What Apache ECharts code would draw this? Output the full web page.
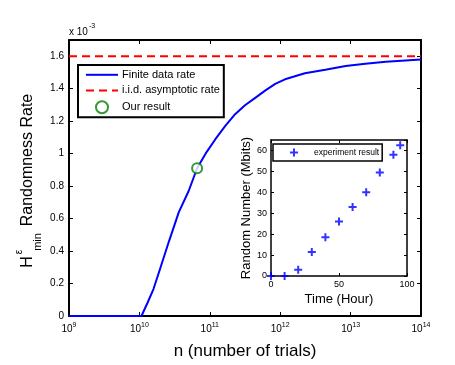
<!DOCTYPE html>
<html>
<head>
<meta charset="utf-8">
<script src="https://cdn.jsdelivr.net/npm/echarts@6/dist/echarts.min.js"></script>
<style>html,body{margin:0;padding:0;background:#fff}#c{width:455px;height:365px}</style>
</head>
<body>
<div id="c"></div>
<script>
// Main plot: finite data rate vs number of trials (rate in units of 1e-3)
const trialsN = [1e9, 1.07e10, 1.3e10, 1.585e10, 2.0e10, 2.63e10, 3.63e10, 5.01e10, 6.6e10, 8.7e10, 1.2e11, 1.66e11, 2.29e11, 3.16e11, 4.47e11, 6.17e11, 8.5e11, 1.17e12, 2.24e12, 4.37e12, 8.5e12, 1.62e13, 3.16e13, 1e14];
const finiteRate = [0, 0, 0.08, 0.166, 0.30, 0.46, 0.64, 0.77, 0.91, 1.0, 1.089, 1.171, 1.243, 1.298, 1.345, 1.39, 1.43, 1.458, 1.495, 1.517, 1.54, 1.553, 1.566, 1.58];
const asymptoticN = [1e9, 1e14];
const asymptoticRate = [1.6, 1.6];
const ourResultN = [6.6e10];
const ourResultRate = [0.91];
// Inset: random number generated vs time
const hours = [0, 10, 20, 30, 40, 50, 60, 70, 80, 90, 95];
const mbits = [0, 0, 3, 11.5, 18.5, 26, 33, 40, 49.5, 58, 62.5];

const FONT = '"Liberation Sans", Arial, Helvetica, sans-serif';
const zip = (a, b) => a.map((v, i) => [v, b[i]]);
const PLUS = 'path://M3,0H5V3H8V5H5V8H3V5H0V3H3Z';

const chart = echarts.init(document.getElementById('c'), null, {renderer: 'canvas'});
const axLine = {show: true, onZero: false, lineStyle: {color: '#000', width: 2}};
const axLineThin = {show: true, onZero: false, lineStyle: {color: '#000', width: 1.5}};
const tickIn = {show: true, inside: true, length: 4, lineStyle: {color: '#000', width: 1}};
const tickInSmall = {show: true, inside: true, length: 3, lineStyle: {color: '#000', width: 1}};

chart.setOption({
  animation: false,
  backgroundColor: '#fff',
  textStyle: {fontFamily: FONT},
  grid: [
    {left: 69, right: 34, top: 40, bottom: 48, containLabel: false},
    {left: 271, right: 48, top: 140, bottom: 89, containLabel: false, show: true, backgroundColor: '#fff', borderWidth: 0}
  ],
  xAxis: [
    {type: 'log', logBase: 10, gridIndex: 0, min: 1e9, max: 1e14, position: 'bottom',
     axisLine: axLine, axisTick: tickIn, splitLine: {show: false},
     axisLabel: {color: '#000', fontSize: 10, margin: 6, fontFamily: FONT,
       formatter: v => '10{s|' + Math.round(Math.log10(v)) + '}',
       rich: {s: {fontSize: 7, verticalAlign: 'top', padding: [0, 0, 7, 0], fontFamily: FONT, color: '#000'}}},
     name: 'n (number of trials)', nameLocation: 'middle', nameGap: 27,
     nameTextStyle: {fontSize: 17, color: '#000', fontFamily: FONT}},
    {type: 'log', logBase: 10, gridIndex: 0, min: 1e9, max: 1e14, position: 'top',
     axisLine: axLine, axisTick: tickIn, axisLabel: {show: false}, splitLine: {show: false}},
    {type: 'value', gridIndex: 1, min: 0, max: 100, interval: 50, position: 'bottom',
     axisLine: axLineThin, axisTick: tickInSmall, splitLine: {show: false},
     axisLabel: {color: '#000', fontSize: 9, margin: 4, fontFamily: FONT},
     name: 'Time (Hour)', nameLocation: 'middle', nameGap: 17,
     nameTextStyle: {fontSize: 13, color: '#000', fontFamily: FONT}},
    {type: 'value', gridIndex: 1, min: 0, max: 100, interval: 50, position: 'top',
     axisLine: axLineThin, axisTick: tickInSmall, axisLabel: {show: false}, splitLine: {show: false}}
  ],
  yAxis: [
    {type: 'value', gridIndex: 0, min: 0, max: 1.7, interval: 0.2, position: 'left',
     axisLine: axLine, axisTick: tickIn, splitLine: {show: false},
     axisLabel: {color: '#000', fontSize: 10, margin: 5, showMaxLabel: false, fontFamily: FONT,
       formatter: v => String(Math.round(v * 10) / 10)}},
    {type: 'value', gridIndex: 0, min: 0, max: 1.7, interval: 0.2, position: 'right',
     axisLine: axLine, axisTick: tickIn, axisLabel: {show: false}, splitLine: {show: false}},
    {type: 'value', gridIndex: 1, min: 0, max: 65, interval: 10, position: 'left',
     axisLine: axLineThin, axisTick: tickInSmall, splitLine: {show: false},
     axisLabel: {color: '#000', fontSize: 9, margin: 4, showMaxLabel: false, fontFamily: FONT},
     name: 'Random Number (Mbits)', nameLocation: 'middle', nameGap: 18,
     nameTextStyle: {fontSize: 13, color: '#000', fontFamily: FONT}},
    {type: 'value', gridIndex: 1, min: 0, max: 65, interval: 10, position: 'right',
     axisLine: axLineThin, axisTick: tickInSmall, axisLabel: {show: false}, splitLine: {show: false}}
  ],
  legend: [
    {data: [
       {name: 'Finite data rate', itemStyle: {opacity: 0}},
       {name: 'i.i.d. asymptotic rate', itemStyle: {opacity: 0}},
       {name: 'Our result', icon: 'emptyCircle'}],
     orient: 'vertical', left: 78, top: 65, itemWidth: 32, itemHeight: 12, itemGap: 4,
     padding: [4, 4, 3, 7], borderColor: '#000', borderWidth: 2, backgroundColor: '#fff',
     textStyle: {fontSize: 11, color: '#000', fontFamily: FONT, padding: [0, 0, 0, -1]}},
    {data: [{name: 'experiment result', icon: PLUS}],
     orient: 'vertical', left: 273, top: 144, itemWidth: 20, itemHeight: 8, itemGap: 0,
     padding: [4, 3, 4, 17], borderColor: '#000', borderWidth: 1.5, backgroundColor: '#fff',
     textStyle: {fontSize: 8.5, color: '#000', fontFamily: FONT, padding: [0, 0, 0, 5]}}
  ],
  series: [
    {name: 'Finite data rate', type: 'line', xAxisIndex: 0, yAxisIndex: 0,
     data: zip(trialsN, finiteRate), showSymbol: false, smooth: false,
     lineStyle: {color: '#0000ff', width: 2}, itemStyle: {color: '#0000ff'}, z: 3},
    {name: 'i.i.d. asymptotic rate', type: 'line', xAxisIndex: 0, yAxisIndex: 0,
     data: zip(asymptoticN, asymptoticRate), showSymbol: false,
     lineStyle: {color: '#ff0000', width: 2, type: [8, 5]}, itemStyle: {color: '#ff0000'}, z: 3},
    {name: 'Our result', type: 'scatter', xAxisIndex: 0, yAxisIndex: 0,
     data: zip(ourResultN, ourResultRate), symbol: 'emptyCircle', symbolSize: 10,
     itemStyle: {color: '#008000', borderColor: '#008000', borderWidth: 2}, z: 4},
    {name: 'experiment result', type: 'scatter', xAxisIndex: 2, yAxisIndex: 2,
     data: zip(hours, mbits), symbol: PLUS, symbolSize: 8,
     itemStyle: {color: '#0000ff'}, z: 4}
  ],
  graphic: [
    {type: 'text', left: 69, top: 27, style: {text: 'x 10', fontSize: 10, fill: '#000', fontFamily: FONT}},
    {type: 'text', left: 89, top: 23, style: {text: '-3', fontSize: 7, fill: '#000', fontFamily: FONT}},
    {type: 'text', x: 28, y: 160, rotation: Math.PI / 2,
     style: {text: 'Randomness Rate', fontSize: 16, fill: '#000', fontFamily: FONT, textAlign: 'center', textVerticalAlign: 'middle'}},
    {type: 'text', x: 28, y: 262, rotation: Math.PI / 2,
     style: {text: 'H', fontSize: 16, fill: '#000', fontFamily: FONT, textAlign: 'center', textVerticalAlign: 'middle'}},
    {type: 'text', x: 19, y: 252, rotation: Math.PI / 2,
     style: {text: 'ε', fontSize: 10, fill: '#000', fontFamily: FONT, textAlign: 'center', textVerticalAlign: 'middle'}},
    {type: 'text', x: 38, y: 242, rotation: Math.PI / 2,
     style: {text: 'min', fontSize: 11, fill: '#000', fontFamily: FONT, textAlign: 'center', textVerticalAlign: 'middle'}}
  ]
});
</script>
</body>
</html>
